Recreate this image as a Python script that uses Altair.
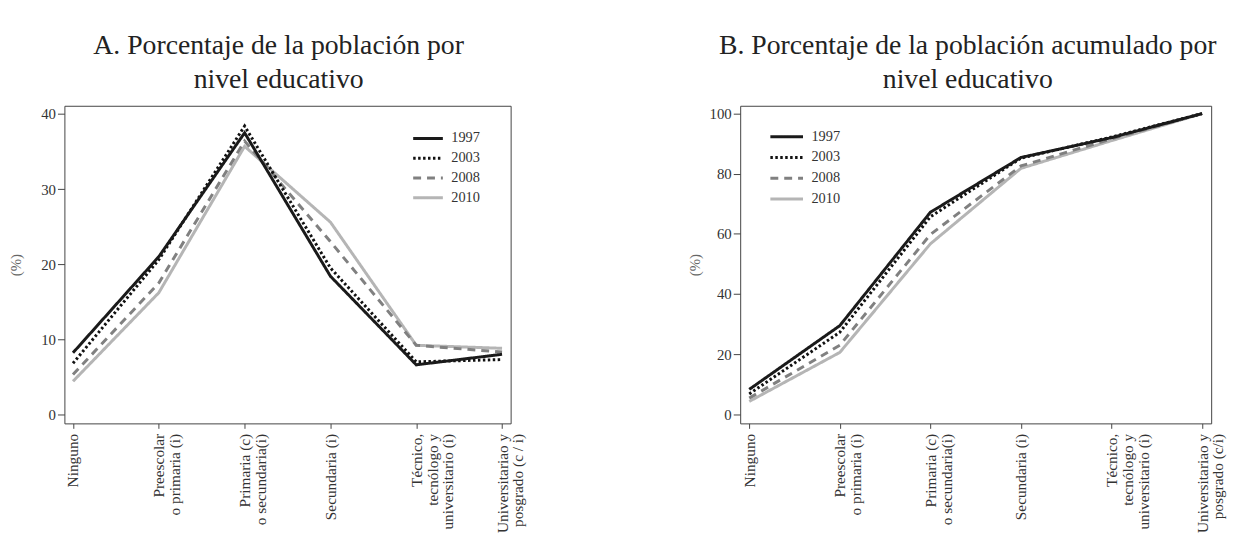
import altair as alt
import pandas as pd

# ---------------- data ----------------
niveles_a = ["Ninguno", "Preescolar|o primaria (i)", "Primaria (c)|o secundaria(i)",
             "Secundaria (i)", "Técnico,|tecnólogo y|universitario (i)",
             "Universitariao y|posgrado (c / i)"]
niveles_b = ["Ninguno", "Preescolar|o primaria (i)", "Primaria (c)|o secundaria(i)",
             "Secundaria (i)", "Técnico,|tecnólogo y|universitario (i)",
             "Universitariao y|posgrado (c/i)"]
anios = ["1997", "2003", "2008", "2010"]

# Panel A: porcentaje por nivel educativo
a_1997 = [8.2, 21.0, 37.5, 18.4, 6.6, 8.0]
a_2003 = [6.8, 20.6, 38.4, 19.5, 7.0, 7.3]
a_2008 = [5.3, 17.5, 36.4, 23.0, 9.2, 8.3]
a_2010 = [4.4, 16.2, 35.7, 25.6, 9.2, 8.8]

# Panel B: porcentaje acumulado
b_1997 = [8.3, 29.5, 67.2, 85.4, 92.0, 100.0]
b_2003 = [6.8, 27.3, 65.7, 85.2, 92.2, 100.0]
b_2008 = [5.4, 23.0, 59.8, 82.6, 91.6, 100.0]
b_2010 = [4.3, 20.6, 56.7, 81.8, 91.0, 100.0]

colores = ["#1a1a1a", "#111111", "#808080", "#b5b5b5"]
trazos = [[1, 0], [2.5, 2.5], [8, 6], [1, 0]]

FONT = "Liberation Serif"


def make_df(niveles, series):
    rows = []
    # draw order: light lines first, dark last
    for anio, vals in reversed(list(zip(anios, series))):
        for i, (n, v) in enumerate(zip(niveles, vals)):
            rows.append({"nivel": n, "valor": v, "anio": anio, "orden": i})
    return pd.DataFrame(rows)


df_a = make_df(niveles_a, [a_1997, a_2003, a_2008, a_2010])
df_b = make_df(niveles_b, [b_1997, b_2003, b_2008, b_2010])


def panel(df, niveles, titulo, ydom, yvals, w, h, legx, legy, symsize, clip, tdx, tpad):
    legend = alt.Legend(title=None, orient="none", legendX=legx, legendY=legy,
                        symbolType="stroke", symbolSize=symsize, symbolStrokeWidth=3,
                        labelFont=FONT, labelFontSize=14.5, labelColor="#333",
                        labelOffset=7, clipHeight=clip, rowPadding=0)
    return alt.Chart(df, title=alt.TitleParams(
        titulo, font=FONT, fontSize=28, fontWeight="normal", color="#222",
        anchor="middle", frame="group", dx=tdx, lineHeight=34, offset=12)
    ).mark_line(strokeWidth=3, strokeCap="butt").encode(
        x=alt.X("nivel:N", scale=alt.Scale(type="point", domain=niveles, padding=0.1),
                axis=alt.Axis(title=None, labelExpr="split(datum.label, '|')",
                              labelAngle=270, labelAlign="right", labelBaseline="middle",
                              labelFont=FONT, labelFontSize=15.5, labelLineHeight=16,
                              labelColor="#333", tickSize=5, tickColor="#444",
                              labelPadding=5, domain=False, grid=False)),
        y=alt.Y("valor:Q", scale=alt.Scale(domain=ydom, nice=False, zero=False),
                axis=alt.Axis(title="(%)", values=yvals, tickSize=7, tickColor="#444",
                              labelFont=FONT, labelFontSize=15, labelColor="#333",
                              labelPadding=2, titleFont=FONT, titleFontSize=15,
                              titleFontWeight="normal", titleColor="#666",
                              titlePadding=tpad, domain=False, grid=False)),
        color=alt.Color("anio:N", scale=alt.Scale(domain=anios, range=colores), legend=legend),
        strokeDash=alt.StrokeDash("anio:N", scale=alt.Scale(domain=anios, range=trazos),
                                  legend=legend),
        order=alt.Order("orden:Q"),
    ).properties(width=w, height=h)


ca = panel(df_a, niveles_a, ["A. Porcentaje de la población por", "nivel educativo"],
           [-1.2, 41.1], [0, 10, 20, 30, 40], 451, 321, 351, 23, 900, 20, -9, 17)
cb = panel(df_b, niveles_b, ["B. Porcentaje de la población acumulado por", "nivel educativo"],
           [-3, 102.6], [0, 20, 40, 60, 80, 100], 476, 321, 29, 21, 1089, 20.5, -8, 7)

chart = alt.hconcat(ca, cb, spacing=161).resolve_scale(
    color="independent", strokeDash="independent"
).resolve_legend(color="independent", strokeDash="independent").properties(
    padding={"left": 0, "top": 21, "right": 0, "bottom": 0}
).configure_view(stroke="#444", strokeWidth=1)

chart.save("out.html", embed_options={"renderer": "svg", "actions": False})
